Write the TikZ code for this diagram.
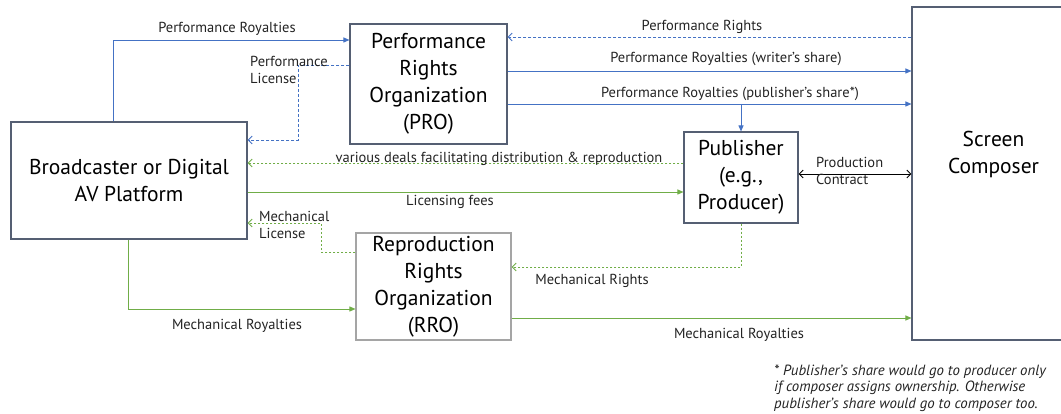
\documentclass[tikz,border=0pt]{standalone}
\usepackage{fontspec}
\setmainfont{PT Sans}
\usetikzlibrary{arrows.meta}

\definecolor{boxline}{RGB}{85,95,115}
\definecolor{rroline}{RGB}{165,165,165}
\definecolor{prblue}{RGB}{68,114,196}
\definecolor{mechgreen}{RGB}{112,173,71}
\definecolor{labeltext}{RGB}{35,35,35}

\begin{document}
\begin{tikzpicture}[x=1pt,y=-1pt,
    box/.style={draw=boxline,line width=1.1pt,align=center,font=\fontsize{21.5}{27}\selectfont,inner sep=0pt},
    lbl/.style={text=labeltext,font=\fontsize{14.5}{17}\selectfont,inner sep=0pt},
    bluesolid/.style={draw=prblue,line width=0.9pt,-{Triangle[length=6pt,width=5pt]}},
    bluedash/.style={draw=prblue,line width=0.9pt,dash pattern=on 3pt off 2pt,-{Straight Barb[length=4pt,width=8pt]}},
    greensolid/.style={draw=mechgreen,line width=0.9pt,-{Triangle[length=6pt,width=5pt]}},
    greendot/.style={draw=mechgreen,line width=0.9pt,dash pattern=on 2pt off 2pt,-{Straight Barb[length=4pt,width=8pt]}},
    contract/.style={draw=black,line width=0.9pt,{Straight Barb[length=4pt,width=8pt]}-{Straight Barb[length=4pt,width=8pt]}}]
\useasboundingbox (0,0) rectangle (1061,414);

\node[box,minimum width=236pt,minimum height=117pt] (bcast) at (129,180.5) {Broadcaster or Digital\\AV Platform};
\node[box,minimum width=157pt,minimum height=120pt] (pro) at (428.5,84) {Performance\\Rights\\Organization\\(PRO)};
\node[box,minimum width=114pt,minimum height=91pt] (pub) at (741,177.5) {Publisher\\(e.g.,\\Producer)};
\node[box,draw=rroline,minimum width=155pt,minimum height=107pt] (rro) at (433.5,286.5) {Reproduction\\Rights\\Organization\\(RRO)};
\node[box,minimum width=163pt,minimum height=333pt] (composer) at (993.5,173.5) {};
\node[box,draw=none] (composertext) at ([yshift=19pt]composer.center) {Screen\\Composer};

\draw[bluesolid] ([xshift=-16pt]bcast.north) |- ([yshift=44pt]pro.west);
\draw[bluedash] ([yshift=19pt]pro.west) -- ++(-51,0) |- ([yshift=40.5pt]bcast.east);
\draw[bluedash] ([yshift=47pt]pro.east -| composer.west) -- ([yshift=47pt]pro.east);
\draw[bluesolid] ([yshift=13pt]pro.east) -- ([yshift=13pt]pro.east -| composer.west);
\draw[bluesolid] ([yshift=-20pt]pro.east) -- ([yshift=-20pt]pro.east -| composer.west);
\draw[bluesolid] ([yshift=-20pt]pro.east -| pub.north) -- (pub.north);
\draw[greendot] ([yshift=14.5pt]pub.west) -- ([yshift=14.5pt]pub.west -| bcast.east);
\draw[greensolid] ([yshift=-14.5pt]pub.west -| bcast.east) -- ([yshift=-14.5pt]pub.west);
\draw[contract] ([yshift=3.5pt]pub.east) -- ([yshift=3.5pt]pub.east -| composer.west);
\draw[greendot] ([yshift=34.5pt]rro.west) -- ++(-34,0) |- ([yshift=-42.5pt]bcast.east);
\draw[greensolid] ([xshift=-1pt]bcast.south) |- ([yshift=-22.5pt]rro.west);
\draw[greendot] (pub.south) |- ([yshift=19.5pt]rro.east);
\draw[greensolid] ([yshift=-31.5pt]rro.east) -- ([yshift=-31.5pt]rro.east -| composer.west);

\node[lbl] (lblroyalties) at (227,29) {Performance Royalties};
\node[lbl,align=left,anchor=west] (lbllicense) at (250,70) {Performance\\License};
\node[lbl] (lblrights) at (702,27) {Performance Rights};
\node[lbl] (lblwriter) at (726,59) {Performance Royalties (writer's share)};
\node[lbl] (lblpublisher) at (730,94) {Performance Royalties (publisher's share*)};
\node[lbl] (lbldeals) at (499,159) {various deals facilitating distribution \& reproduction};
\node[lbl] (lblfees) at (450,202) {Licensing fees};
\node[lbl,align=left,anchor=west] (lblcontract) at (816,171) {Production\\Contract};
\node[lbl,align=left,anchor=west] (lblmechlicense) at (259,225) {Mechanical\\License};
\node[lbl] (lblmechroyleft) at (237,326) {Mechanical Royalties};
\node[lbl] (lblmechrights) at (592,281) {Mechanical Rights};
\node[lbl] (lblmechroyright) at (739,335) {Mechanical Royalties};
\node[lbl,align=left,anchor=west,font=\fontsize{14.8}{16.5}\selectfont\itshape] (footnote) at (774,388) {* Publisher's share would go to producer only\\if composer assigns ownership. Otherwise\\publisher's share would go to composer too.};
\end{tikzpicture}
\end{document}
